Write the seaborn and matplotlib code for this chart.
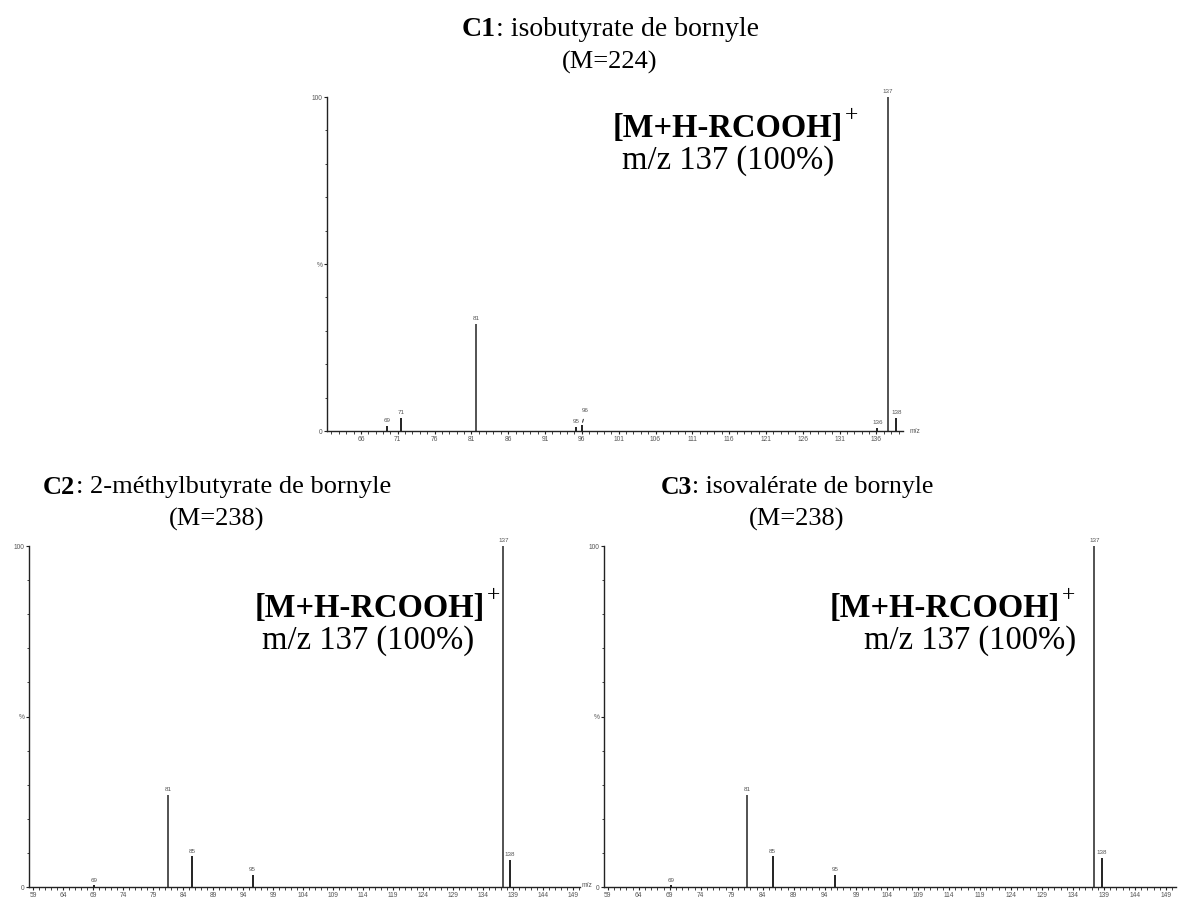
import numpy as np
import pandas as pd
import matplotlib
matplotlib.use("Agg")
import matplotlib.pyplot as plt
import seaborn as sns
from matplotlib.ticker import MultipleLocator, FixedLocator

# ---------------- data ----------------
c1_mz = [69.5, 71.45, 81.6, 95.2, 96.0, 136.1, 137.55, 138.7]
c1_int = [1.5, 4.0, 32.0, 1.2, 1.8, 1.0, 100.0, 4.0]
c1_lab = ["69", "71", "81", "95", "96", "136", "137", "138"]

c2_mz = [69.15, 81.45, 85.5, 95.6, 137.4, 138.5]
c2_int = [0.5, 27.0, 9.0, 3.5, 100.0, 8.0]
c2_lab = ["69", "81", "85", "95", "137", "138"]

c3_mz = [69.15, 81.45, 85.6, 95.7, 137.45, 138.6]
c3_int = [0.5, 27.0, 9.0, 3.5, 100.0, 8.5]
c3_lab = ["69", "81", "85", "95", "137", "138"]

c1_ticks = list(range(66, 137, 5))
c23_ticks = list(range(59, 150, 5))

titles = [("C1", ": isobutyrate de bornyle", "(M=224)"),
          ("C2", ": 2-méthylbutyrate de bornyle", "(M=238)"),
          ("C3", ": isovalérate de bornyle", "(M=238)")]
ion_text = "[M+H-RCOOH]"
ion_sub = "m/z 137 (100%)"

# ---------------- style ----------------
sns.set_theme(style="ticks")
plt.rcParams["font.family"] = ["Liberation Sans", "DejaVu Sans"]
plt.rcParams["text.color"] = "black"

W, H = 1178, 897
fig = plt.figure(figsize=(W / 100, H / 100), dpi=100)

def fx(px):
    return px / W

def fy(py):
    return 1 - py / H

panels = [
    dict(rect=(327, 97, 903, 431), xlim=(61.4, 139.6), mz=c1_mz, inten=c1_int,
         lab=c1_lab, ticks=c1_ticks, mzlab=(910, 431)),
    dict(rect=(29, 546, 580, 887), xlim=(58.3, 150.2), mz=c2_mz, inten=c2_int,
         lab=c2_lab, ticks=c23_ticks, mzlab=(582, 885)),
    dict(rect=(604, 546, 1176, 887), xlim=(58.4, 150.6), mz=c3_mz, inten=c3_int,
         lab=c3_lab, ticks=c23_ticks, mzlab=None),
]

tick_color = "#555555"
axes = []
for i, p in enumerate(panels):
    x0, y0, x1, y1 = p["rect"]
    ax = fig.add_axes([fx(x0), fy(y1), fx(x1 - x0), (y1 - y0) / H])
    axes.append(ax)
    df = pd.DataFrame({"mz": p["mz"], "int": p["inten"], "lab": p["lab"]})
    colors = ["#444444" if v > 20 else "#111111" for v in df["int"]]
    ax.vlines(df["mz"], 0, df["int"], colors=colors, linewidth=1.3)
    ax.set_xlim(*p["xlim"])
    ax.set_ylim(0, 100)
    sns.despine(ax=ax)
    for s in ["left", "bottom"]:
        ax.spines[s].set_color("#222222")
        ax.spines[s].set_linewidth(1.0)
    ax.yaxis.set_major_locator(FixedLocator([0, 50, 100]))
    ax.set_yticklabels(["0", "%", "100"])
    ax.yaxis.set_minor_locator(MultipleLocator(10))
    ax.xaxis.set_major_locator(FixedLocator(p["ticks"]))
    ax.set_xticklabels([str(t) for t in p["ticks"]])
    ax.xaxis.set_minor_locator(MultipleLocator(1))
    ax.tick_params(axis="both", which="major", length=2.5, width=0.8,
                   labelsize=4.8, labelcolor=tick_color, color="#222222", pad=0.8)
    ax.tick_params(axis="both", which="minor", length=1.8, width=0.6, color="#222222")
    ax.patch.set_alpha(0)
    for _, r in df.iterrows():
        if r["lab"] == "96":
            ax.annotate(r["lab"], xy=(r["mz"], r["int"]), xytext=(r["mz"] + 0.5, r["int"] + 3.5),
                        fontsize=4.5, color=tick_color, ha="center", va="bottom",
                        arrowprops=dict(arrowstyle="-", color="#222222", lw=0.7))
        else:
            ax.annotate(r["lab"], xy=(r["mz"], r["int"]), xytext=(0, 2),
                        textcoords="offset points", fontsize=4.5, color=tick_color,
                        ha="center", va="bottom", annotation_clip=False)
    if p["mzlab"] is not None:
        fig.text(fx(p["mzlab"][0]), fy(p["mzlab"][1]), "m/z", fontsize=4.8,
                 color=tick_color, ha="left", va="center")

# ---------------- titles and annotations ----------------
serif = ["Liberation Serif", "DejaVu Serif"]
fig.canvas.draw()
renderer = fig.canvas.get_renderer()

def title(cx, cy, bold, rest, sub, sub_y, size=19):
    t1 = fig.text(0, 0, bold, fontsize=size, fontweight="bold", family=serif, color="black")
    t2 = fig.text(0, 0, rest, fontsize=size, family=serif, color="black")
    w1 = t1.get_window_extent(renderer).width
    w2 = t2.get_window_extent(renderer).width
    start = cx - (w1 + w2) / 2
    t1.set_position((fx(start), fy(cy)))
    t1.set_va("center")
    t2.set_position((fx(start + w1), fy(cy)))
    t2.set_va("center")
    fig.text(fx(cx), fy(sub_y), sub, fontsize=19, family=serif, ha="center",
             va="center", color="black")

title(610, 30, *titles[0], 62, size=20)
title(217, 487, *titles[1], 519)
title(797, 487, *titles[2], 519, size=18.5)

def ion(x_left, y, sub_cx, sub_y):
    t = fig.text(fx(x_left), fy(y), ion_text, fontsize=23.5, fontweight="bold",
                 family=serif, ha="left", va="center", color="black")
    bb = t.get_window_extent(renderer)
    fig.text(fx(bb.x1 + 2), fy(y - 12), "+", fontsize=17, family=serif,
             ha="left", va="center", color="black")
    fig.text(fx(sub_cx), fy(sub_y), ion_sub, fontsize=23.5, family=serif,
             ha="center", va="center", color="black")

ion(613, 128, 728, 161)
ion(255, 608, 368, 641)
ion(830, 608, 970, 641)

fig.savefig("out.png", dpi=100, facecolor="white")
